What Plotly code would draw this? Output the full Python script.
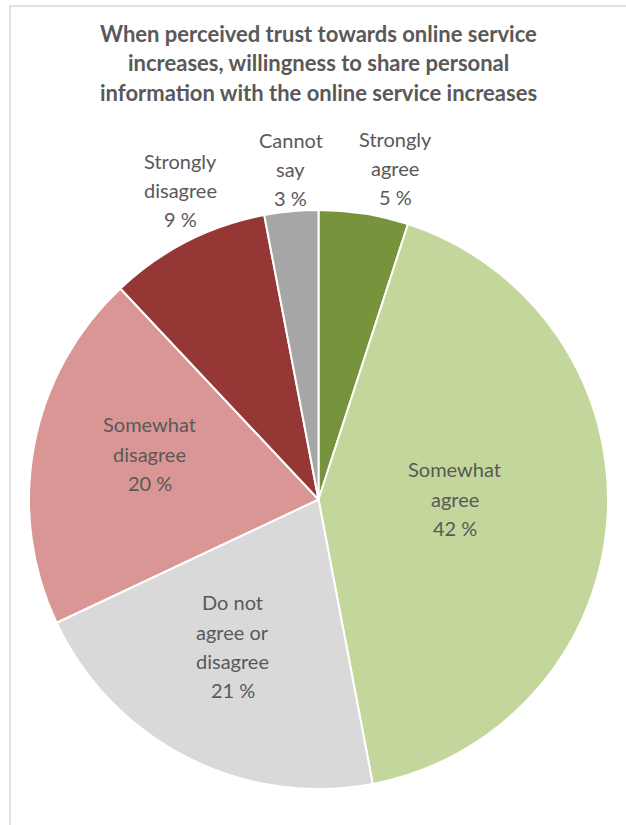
import math
import plotly.graph_objects as go

# ---- data ----
categories = ["Strongly agree", "Somewhat agree", "Do not agree or disagree",
              "Somewhat disagree", "Strongly disagree", "Cannot say"]
label_lines = [["Strongly", "agree"], ["Somewhat", "agree"], ["Do not", "agree or", "disagree"],
               ["Somewhat", "disagree"], ["Strongly", "disagree"], ["Cannot", "say"]]
values = [5, 42, 21, 20, 9, 3]
title_lines = ["When perceived trust towards online service",
               "increases, willingness to share personal",
               "information with the online service increases"]

# ---- style ----
colors = ["#77933C", "#C3D69B", "#D9D9D9", "#D99694", "#953735", "#A6A6A6"]
label_radius = [1.175, 0.47, 0.587, 0.604, 1.17, 1.146]
label_angle_offset = [4.0, -4.0, 3.3, 4.4, 3.0, 0.6]   # degrees
W, H = 626, 825
cx, cy, R = 318.5, 499.5, 289.5
txt_color = "#595959"
font_family = "Lato, 'Open Sans', sans-serif"
label_size = 20
line_gap = 29.2

fig = go.Figure(go.Pie(
    labels=categories, values=values, sort=False, direction="clockwise",
    rotation=0, marker=dict(colors=colors, line=dict(color="white", width=2)),
    textinfo="none", hoverinfo="label+percent", showlegend=False,
    domain=dict(x=[(cx - R) / W, (cx + R) / W], y=[1 - (cy + R) / H, 1 - (cy - R) / H]),
))

annotations = []
total = sum(values)
cum = 0
for lines, v, rf, off in zip(label_lines, values, label_radius, label_angle_offset):
    mid = (cum + v / 2) / total * 2 * math.pi + math.radians(off)
    cum += v
    px = cx + rf * R * math.sin(mid)
    py = cy - rf * R * math.cos(mid)
    all_lines = lines + [f"{round(v / total * 100)} %"]
    n = len(all_lines)
    for i, t in enumerate(all_lines):
        ly = py + (i - (n - 1) / 2) * line_gap
        annotations.append(dict(
            x=px / W, y=1 - ly / H, xref="paper", yref="paper", showarrow=False,
            text=t, font=dict(family=font_family, size=label_size, color=txt_color),
            xanchor="center", yanchor="middle"))

for i, line in enumerate(title_lines):
    annotations.append(dict(
        x=318 / W, y=1 - (33 + i * 29.5) / H, xref="paper", yref="paper",
        showarrow=False, text=f"<b>{line}</b>", xanchor="center", yanchor="middle",
        font=dict(family=font_family, size=22, color=txt_color)))

fig.update_layout(
    width=W, height=H, margin=dict(l=0, r=0, t=0, b=0),
    paper_bgcolor="white", plot_bgcolor="white",
    annotations=annotations,
    shapes=[dict(type="rect", xref="paper", yref="paper",
                 x0=10 / W, x1=1.05, y0=-0.05, y1=1 - 6 / H,
                 line=dict(color="#D9D9D9", width=1.5), layer="below")],
)

fig.write_html("out.html", config={"displayModeBar": False},
               post_script="document.body.style.margin='0';")
